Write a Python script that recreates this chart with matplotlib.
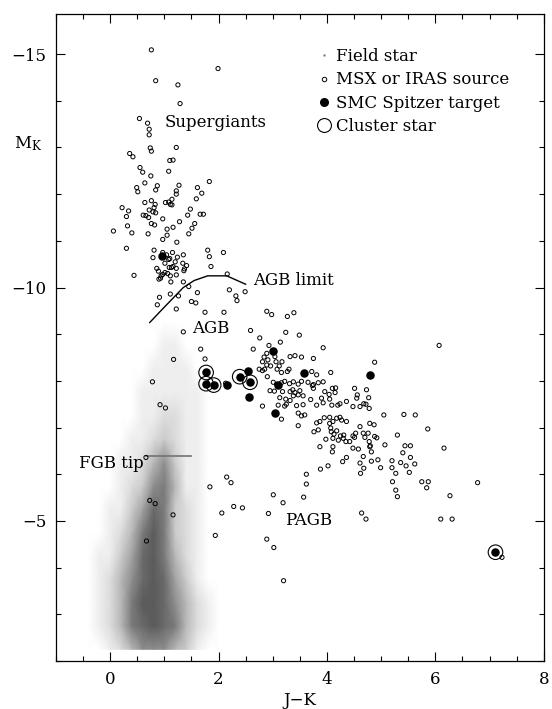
import numpy as np
import matplotlib.pyplot as plt
from matplotlib.lines import Line2D
from matplotlib.colors import PowerNorm
from matplotlib.ticker import MultipleLocator

plt.rcParams['font.family'] = ['DejaVu Serif']
plt.rcParams['mathtext.fontset'] = 'dejavuserif'

# ---- field stars: relative density (rows = M_K, cols = J-K)
field_jk = [-0.6, -0.4, -0.2, 0.0, 0.2, 0.4, 0.6, 0.8, 1.0, 1.2, 1.4, 1.6, 1.8, 2.0, 2.2, 2.4, 2.6]
field_mk = [-2.25, -2.75, -3.25, -3.75, -4.25, -4.75, -5.25, -5.75, -6.25,
            -6.75, -7.25, -7.75, -8.25, -8.75, -9.25]
field_density = [
    [0, 0, 0, 1, 2, 4, 6, 6, 6, 4, 3, 1, 0, 0, 0, 0, 0],
    [0, 0, 1, 2, 4, 7, 8, 9, 8, 7, 4, 2, 1, 0, 0, 0, 0],
    [0, 0, 1, 2, 4, 7, 9, 9, 8, 6, 4, 2, 1, 0, 0, 0, 0],
    [0, 0, 1, 2, 4, 6, 8, 9, 8, 5, 3, 1, 0, 0, 0, 0, 0],
    [0, 0, 1, 1, 3, 5, 8, 9, 7, 4, 2, 1, 0, 0, 0, 0, 0],
    [0, 0, 0, 1, 2, 4, 7, 9, 7, 3, 2, 1, 0, 0, 0, 0, 0],
    [0, 0, 0, 1, 1, 3, 5, 8, 7, 3, 2, 1, 0, 0, 0, 0, 0],
    [0, 0, 0, 0, 1, 2, 3, 6, 7, 4, 1, 1, 0, 0, 0, 0, 0],
    [0, 0, 0, 0, 1, 1, 2, 4, 6, 3, 1, 1, 0, 0, 0, 0, 0],
    [0, 0, 0, 0, 0, 1, 1, 2, 3, 2, 1, 1, 0, 0, 0, 0, 0],
    [0, 0, 0, 0, 0, 0, 1, 1, 2, 2, 1, 1, 0, 0, 0, 0, 0],
    [0, 0, 0, 0, 0, 0, 1, 1, 1, 1, 1, 1, 0, 0, 0, 0, 0],
    [0, 0, 0, 0, 0, 0, 0, 1, 1, 1, 1, 0, 0, 0, 0, 0, 0],
    [0, 0, 0, 0, 0, 0, 0, 0, 1, 1, 0, 0, 0, 0, 0, 0, 0],
    [0, 0, 0, 0, 0, 0, 0, 0, 0, 0, 0, 0, 0, 0, 0, 0, 0],
]

# ---- MSX or IRAS sources (J-K, M_K)
msx = np.array([
    (0.76, -15.09), (1.99, -14.69), (0.84, -14.43), (1.25, -14.34), (1.29, -13.94),
    (0.54, -13.62), (0.69, -13.52), (0.72, -13.39), (0.72, -13.27), (0.74, -12.99),
    (0.76, -12.92), (1.22, -13.00), (0.36, -12.87),
    (0.42, -12.80), (1.10, -12.72), (1.16, -12.73), (0.55, -12.57), (0.60, -12.47),
    (1.08, -12.49), (0.75, -12.39), (1.83, -12.27), (0.64, -12.24), (0.87, -12.18),
    (1.27, -12.19), (0.49, -12.14), (0.51, -12.05), (0.84, -12.09), (1.61, -12.14),
    (1.22, -12.07), (1.22, -12.00), (1.69, -12.02), (1.59, -11.90), (1.14, -11.89),
    (0.64, -11.82), (0.76, -11.86), (1.02, -11.82), (1.08, -11.83), (1.11, -11.78),
    (1.14, -11.77), (0.83, -11.78), (0.81, -11.71), (0.22, -11.71), (0.34, -11.64),
    (0.72, -11.66), (0.79, -11.62), (0.84, -11.60), (1.48, -11.68), (0.30, -11.52),
    (0.61, -11.55), (0.66, -11.54), (0.71, -11.50), (1.43, -11.55), (1.66, -11.57),
    (1.72, -11.57), (0.97, -11.47), (1.28, -11.41), (1.56, -11.37), (0.76, -11.37),
    (0.82, -11.34), (0.32, -11.32), (1.16, -11.29), (1.51, -11.27), (1.05, -11.25),
    (0.06, -11.21), (0.40, -11.17), (0.70, -11.15), (1.45, -11.15), (1.05, -11.12),
    (0.97, -11.03), (1.23, -10.97), (0.30, -10.84), (0.81, -10.80), (0.97, -10.75),
    (1.15, -10.75), (1.80, -10.80), (1.35, -10.70), (1.83, -10.66), (2.09, -10.75),
    (0.79, -10.64), (1.04, -10.70), (1.08, -10.60), (1.10, -10.62), (1.24, -10.65),
    (1.01, -10.52), (1.20, -10.55), (1.34, -10.52), (1.22, -10.41), (1.41, -10.47),
    (1.37, -10.40), (1.09, -10.43), (1.13, -10.43), (1.16, -10.45), (0.86, -10.41),
    (0.89, -10.35), (1.86, -10.45), (1.01, -10.32), (1.06, -10.30), (1.11, -10.25),
    (1.22, -10.27), (1.36, -10.36), (0.44, -10.26), (0.94, -10.25), (0.97, -10.28),
    (0.90, -10.18), (0.93, -10.20), (1.12, -10.12), (1.35, -10.12), (2.16, -10.29),
    (2.20, -9.95), (2.32, -9.82), (2.49, -9.91), (1.45, -10.02), (1.61, -9.89),
    (0.91, -9.79), (1.11, -9.86), (1.26, -9.82),
    (1.50, -9.70), (1.58, -9.67), (2.34, -9.72), (0.87, -9.63), (1.22, -9.54),
    (1.75, -9.47), (2.10, -9.47), (2.89, -9.49), (2.98, -9.42), (3.27, -9.38),
    (3.39, -9.46), (1.35, -9.05), (2.59, -9.08), (3.24, -9.04), (3.49, -8.98),
    (2.76, -8.92), (2.93, -8.76), (3.14, -8.83), (1.67, -8.68), (2.64, -8.68),
    (2.89, -8.59), (2.84, -8.51), (2.81, -8.41), (2.91, -8.45), (3.04, -8.52),
    (3.06, -8.41), (3.12, -8.32), (3.17, -8.41), (3.32, -8.52), (3.41, -8.54),
    (3.53, -8.51), (3.75, -8.48), (1.17, -8.46), (1.75, -8.47), (2.89, -8.34),
    (2.96, -8.32), (2.75, -8.25), (2.81, -8.22), (2.85, -8.25), (3.08, -8.25),
    (3.16, -8.18), (3.27, -8.20), (3.30, -8.25), (3.72, -8.20), (2.13, -7.95),
    (0.78, -7.98), (2.90, -8.09),
    (3.93, -8.71), (4.88, -8.40), (4.07, -8.18), (3.93, -7.98), (3.81, -8.13),
    (3.84, -7.96), (3.75, -7.92), (3.75, -7.84), (4.10, -7.84), (4.16, -7.85),
    (6.07, -8.76),
    (2.95, -7.79), (3.01, -7.97), (3.07, -7.93), (3.16, -7.96), (3.22, -7.99),
    (3.31, -7.94), (3.38, -7.98), (3.47, -7.93), (3.53, -7.99), (3.65, -7.97),
    (3.73, -7.90), (3.03, -7.78), (3.18, -7.77), (3.32, -7.77), (3.37, -7.81),
    (3.41, -7.75), (3.50, -7.79), (3.56, -7.68), (3.13, -7.64), (3.24, -7.61),
    (3.32, -7.58), (3.38, -7.68), (3.47, -7.70), (2.81, -7.46), (3.10, -7.48),
    (3.22, -7.46), (3.25, -7.50), (3.44, -7.47), (3.56, -7.49), (3.70, -7.60),
    (3.81, -7.48), (3.90, -7.63), (3.96, -7.77), (4.04, -7.71), (4.05, -7.61),
    (4.15, -7.75), (4.09, -7.48), (4.20, -7.48), (3.93, -7.53), (4.51, -7.84),
    (4.56, -7.70), (4.73, -7.81), (4.55, -7.63), (4.68, -7.51), (4.72, -7.50),
    (4.61, -7.45), (4.78, -7.41), (4.36, -7.56), (4.48, -7.45), (4.24, -7.51),
    (3.47, -7.31), (3.53, -7.25), (3.59, -7.27), (3.16, -7.18), (3.47, -7.04),
    (3.81, -7.10), (3.87, -7.13), (3.95, -7.21), (4.05, -7.22), (4.11, -7.13),
    (4.18, -7.20), (4.24, -7.22), (4.27, -7.16), (4.36, -7.13), (4.05, -7.09),
    (4.07, -6.99), (4.08, -6.91), (4.13, -6.86), (4.18, -6.93), (4.11, -6.77),
    (4.21, -6.73), (4.25, -6.82), (4.31, -6.84), (4.30, -6.77), (4.35, -6.70),
    (4.42, -6.70), (4.48, -6.82), (4.53, -6.88), (4.51, -6.79), (4.61, -7.02),
    (4.67, -6.88), (4.70, -6.79), (4.76, -6.88), (4.79, -7.09), (4.87, -7.06),
    (4.78, -6.70), (4.88, -6.81), (4.79, -6.59), (4.82, -6.48), (4.67, -6.38),
    (4.82, -6.28), (4.61, -6.24), (4.68, -6.13), (4.62, -6.02), (4.94, -6.31),
    (4.58, -6.54), (4.48, -6.56), (4.36, -6.36), (4.29, -6.27), (4.11, -6.59),
    (4.10, -6.48), (4.02, -6.18), (3.87, -6.59), (3.76, -6.91), (3.84, -6.95),
    (3.98, -6.75), (3.88, -6.11), (3.62, -6.00), (3.62, -5.79),
    (4.77, -7.64), (5.05, -7.27), (5.42, -7.28), (5.63, -7.27), (5.86, -6.97),
    (5.30, -6.84), (4.92, -6.78), (4.80, -6.61), (5.07, -6.63), (5.44, -6.61),
    (5.54, -6.61), (6.16, -6.56), (5.40, -6.46), (5.54, -6.36), (5.20, -6.29),
    (5.36, -6.25), (5.46, -6.18), (5.62, -6.22), (4.99, -6.14), (5.20, -6.14),
    (5.27, -6.02), (5.52, -6.04), (5.21, -5.84), (5.75, -5.84), (5.87, -5.84),
    (5.84, -5.71), (5.27, -5.66), (5.30, -5.52), (6.78, -5.82), (6.27, -5.54),
    (6.10, -5.04), (6.31, -5.04), (7.23, -4.22),
    (1.84, -5.73), (2.23, -5.82), (3.01, -5.56), (3.57, -5.51), (3.19, -5.39),
    (2.28, -5.31), (2.44, -5.28), (2.06, -5.17), (2.92, -5.16), (4.64, -5.17),
    (4.72, -5.04), (1.94, -4.69), (2.89, -4.61), (3.02, -4.43), (3.20, -3.72),
    (0.92, -7.49), (1.02, -7.42), (0.66, -6.36), (2.15, -5.94), (0.73, -5.44),
    (0.83, -5.37), (1.16, -5.13), (0.67, -4.57),
])
msx_jk, msx_mk = msx[:, 0], msx[:, 1]

# ---- SMC Spitzer targets
target_jk = [0.95, 3.01, 2.55, 3.58, 4.80, 3.09, 2.16, 2.56, 3.05,
             1.77, 1.77, 1.91, 2.39, 2.58, 7.11]
target_mk = [-10.67, -8.65, -8.22, -8.16, -8.12, -7.91, -7.91, -7.65, -7.31,
             -8.18, -7.94, -7.91, -8.09, -7.97, -4.33]

# ---- cluster stars
cluster_jk = [1.77, 1.77, 1.91, 2.39, 2.58, 7.11]
cluster_mk = [-8.18, -7.94, -7.91, -8.09, -7.97, -4.33]

# ---- reference lines
agb_limit_jk = [0.73, 0.95, 1.15, 1.35, 1.55, 1.80, 2.15, 2.50]
agb_limit_mk = [-9.25, -9.52, -9.76, -10.0, -10.15, -10.25, -10.25, -10.07]
fgb_tip_jk = [0.67, 1.50]
fgb_tip_mk = [-6.39, -6.39]

fig = plt.figure(figsize=(5.52, 7.09), dpi=100)
ax = fig.add_axes([0.1014, 0.0677, 0.8836, 0.912])

ax.pcolormesh(field_jk, field_mk, np.array(field_density), shading='gouraud',
              cmap='Greys', norm=PowerNorm(gamma=0.75, vmin=0, vmax=14),
              zorder=0, rasterized=True)

ax.scatter(msx_jk, msx_mk, s=9, facecolors='none', edgecolors='black',
           linewidths=0.7, zorder=3)
ax.scatter(target_jk, target_mk, s=26, color='black', zorder=4)
ax.scatter(cluster_jk, cluster_mk, s=110, facecolors='none', edgecolors='black',
           linewidths=0.8, zorder=5)

ax.plot(agb_limit_jk, agb_limit_mk, color='black', lw=1.0, zorder=2)
ax.plot(fgb_tip_jk, fgb_tip_mk, color='0.45', lw=1.2, zorder=2)

fs = 12
ax.text(1.01, -13.54, 'Supergiants', fontsize=fs, va='center')
ax.text(2.63, -10.16, 'AGB limit', fontsize=fs, va='center')
ax.text(1.51, -9.12, 'AGB', fontsize=fs, va='center')
ax.text(-0.57, -6.22, 'FGB tip', fontsize=fs, va='center')
ax.text(3.22, -5.0, 'PAGB', fontsize=fs, va='center')

handles = [
    Line2D([], [], ls='none', marker='.', ms=1.5, color='0.5'),
    Line2D([], [], ls='none', marker='o', ms=3.2, mfc='none', mec='black', mew=0.7),
    Line2D([], [], ls='none', marker='o', ms=5.5, color='black'),
    Line2D([], [], ls='none', marker='o', ms=10, mfc='none', mec='black', mew=0.8),
]
labels = ['Field star', 'MSX or IRAS source', 'SMC Spitzer target', 'Cluster star']
ax.legend(handles, labels, loc='upper left', bbox_to_anchor=(0.535, 0.948),
          frameon=False, fontsize=fs, handlelength=0.9, handletextpad=0.25,
          labelspacing=0.38, borderpad=0, borderaxespad=0)

ax.set_xlim(-1, 8)
ax.set_ylim(-2.0, -15.85)
ax.xaxis.set_major_locator(MultipleLocator(2))
ax.xaxis.set_minor_locator(MultipleLocator(0.5))
ax.yaxis.set_major_locator(MultipleLocator(5))
ax.yaxis.set_minor_locator(MultipleLocator(1))
ax.tick_params(which='both', direction='in', top=True, right=True, width=0.8)
ax.tick_params(which='major', length=6.5, labelsize=fs, pad=7)
ax.tick_params(which='minor', length=3.5)
for s in ax.spines.values():
    s.set_linewidth(0.9)

ax.set_xlabel('J\u2212K', fontsize=fs, labelpad=3)
ax.text(-0.058, 0.80, r'M$_{\mathregular{K}}$', transform=ax.transAxes,
        fontsize=fs, ha='center', va='center')

fig.savefig('out.png', dpi=100)
